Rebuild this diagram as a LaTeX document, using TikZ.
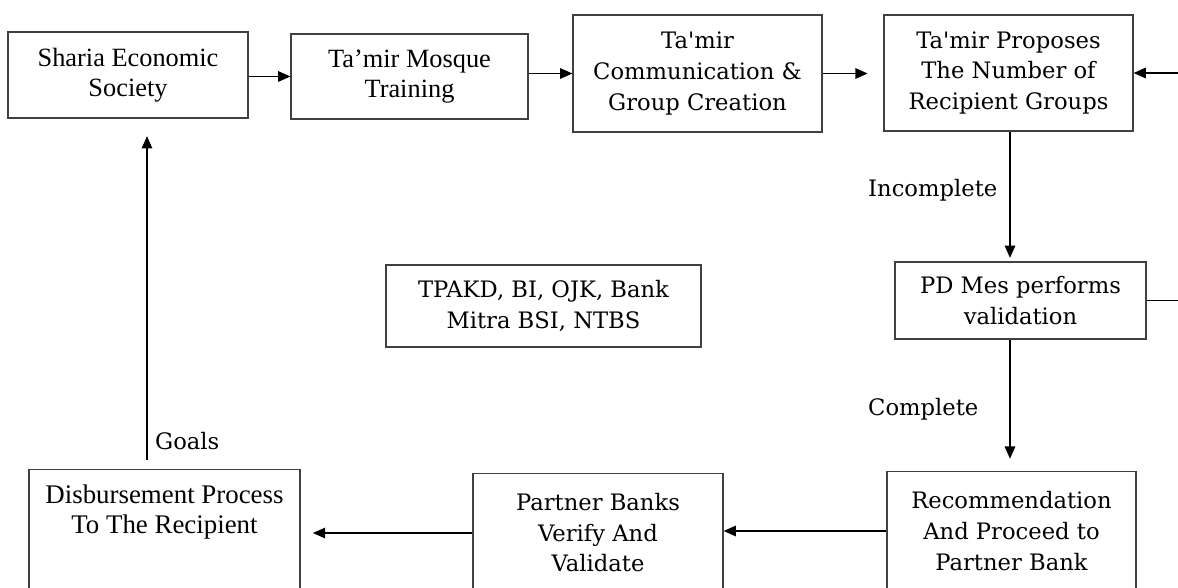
\documentclass[tikz,border=0pt]{standalone}
\usepackage{fontspec}
\setmainfont{Liberation Serif}
\newfontfamily\cambfont{DejaVu Serif}
\usetikzlibrary{arrows.meta,positioning}
\tikzset{
    box/.style={draw=black!75, line width=0.7pt, align=center, inner sep=2pt},
    tms/.style={font=\fontsize{15}{17}\selectfont},
    cmb/.style={font=\cambfont\fontsize{12.9}{17.4}\selectfont},
    arr/.style={-{Triangle[length=7pt,width=6pt]}, line width=0.8pt}
}
\begin{document}
\begin{tikzpicture}[x=0.02cm, y=-0.02cm]
            \useasboundingbox (0,0) rectangle (1178,588);
            \clip (0,0) rectangle (1178,588);
            % top row
            \node[box, tms, minimum width=4.8cm, minimum height=1.72cm] (sharia) at (128,75) {Sharia Economic\\Society};
            \node[box, tms, minimum width=4.74cm, minimum height=1.7cm] (mosque) at (409.5,76.5) {Ta’mir Mosque\\Training};
            \node[box, cmb, minimum width=4.98cm, minimum height=2.34cm] (comm) at (697.5,73.5) {Ta'mir\\Communication \&\\Group Creation};
            \node[box, cmb, minimum width=4.98cm, minimum height=2.32cm] (propose) at (1008.5,73) {Ta'mir Proposes\\The Number of\\Recipient Groups};
            % middle
            \node[box, cmb, minimum width=5.02cm, minimum height=1.54cm] (pdmes) at (1020.5,300.5) {PD Mes performs\\validation};
            \node[box, cmb, minimum width=6.3cm, minimum height=1.64cm] (tpakd) at (543.5,306) {TPAKD, BI, OJK, Bank\\Mitra BSI, NTBS};
            % bottom row, cut at the lower edge
            \node[box, cmb, anchor=north, minimum width=4.98cm, minimum height=2.38cm] (recom) at (1011.5,471) {Recommendation\\And Proceed to\\Partner Bank};
            \node[box, cmb, anchor=north, minimum width=5cm, minimum height=2.36cm] (partner) at (598,473) {Partner Banks\\Verify And\\Validate};
            \node[box, anchor=north, minimum width=5.42cm, minimum height=2.56cm] (disb) at (164.5,469) {};
            \node[align=center, below=5.5pt of disb.north, font=\fontsize{15.3}{16.8}\selectfont] (disbtext) {Disbursement Process\\To The Recipient};
            \coordinate (rin) at (1178,73);
            % labels
            \node[cmb, anchor=west] (incomp) at (862,190) {Incomplete};
            \node[cmb, anchor=west] (comp) at (862,409) {Complete};
            \node[cmb, anchor=west] (goals) at (149,441) {Goals};
            % connectors
            \draw[arr] (sharia.east |- mosque) -- (mosque.west);
            \draw[arr] (mosque.east |- comm) -- (comm.west);
            \draw[arr, shorten >=9pt] (comm) -- (comm -| propose.west);
            \draw[arr] (rin) -- (propose.east);
            \draw[line width=0.7pt] (pdmes.east) -- (pdmes.east -| rin);
            \draw[arr, shorten >=2pt] (propose.south -| 1010,0) -- (pdmes.north -| 1010,0);
            \draw[arr, shorten >=7pt] (pdmes.south -| 1010,0) -- (recom.north -| 1010,0);
            \draw[arr] (recom.west |- 0,531) -- (partner.east |- 0,531);
            \draw[arr, shorten >=7pt] (partner.west |- 0,533) -- (disb.east |- 0,533);
            \draw[arr, shorten <=5pt, shorten >=10pt] (disb.north -| 147,0) -- (sharia.south -| 147,0);
        \end{tikzpicture}
\end{document}
